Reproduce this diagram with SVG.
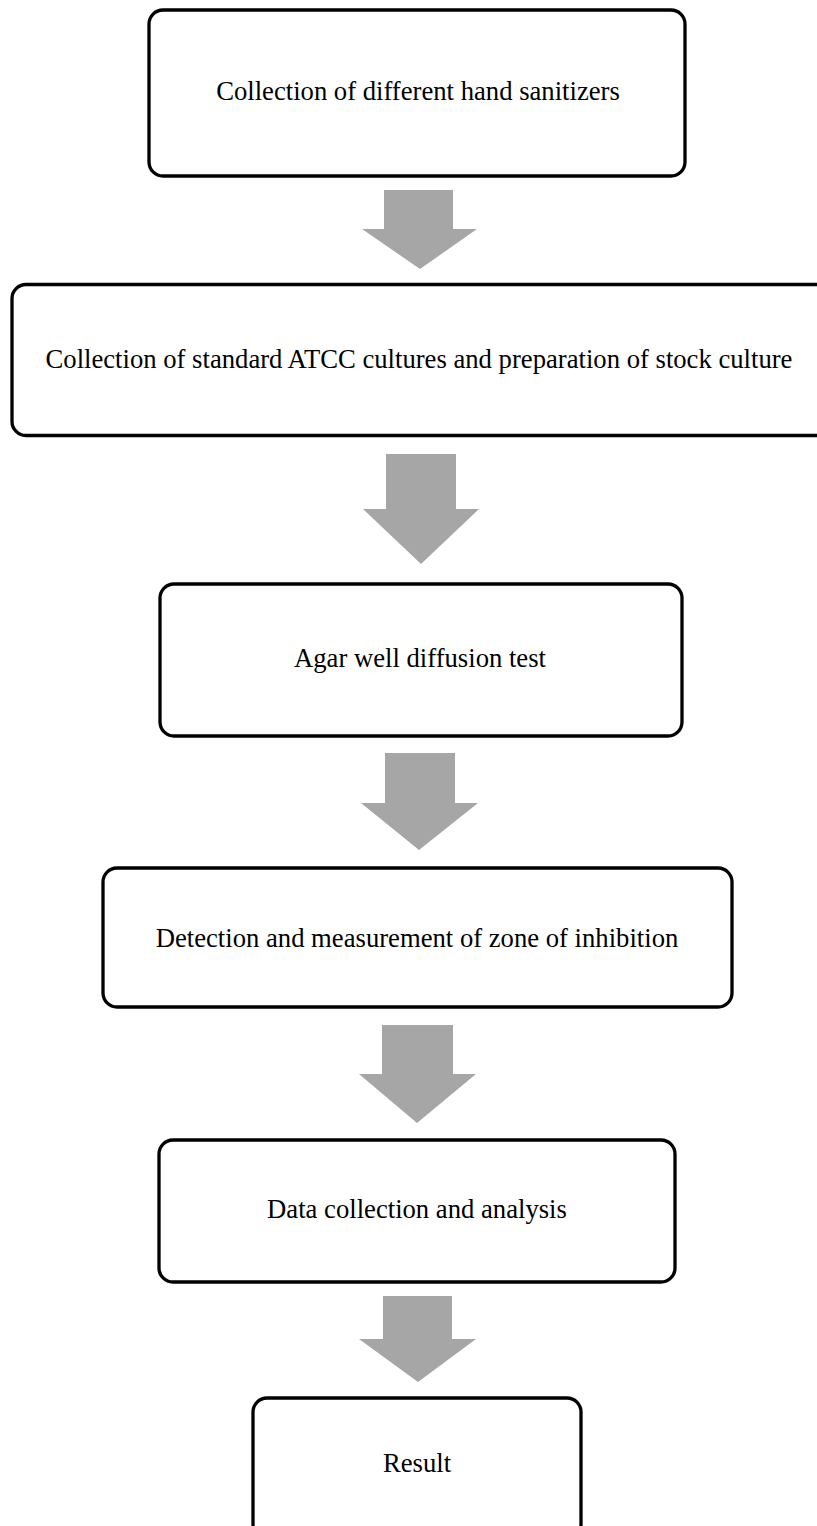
<svg xmlns="http://www.w3.org/2000/svg" width="817" height="1526" viewBox="0 0 817 1526">
<style>
.box{fill:#ffffff;stroke:#000000;stroke-width:3.3}
.lbl{font-family:"Liberation Serif","Times New Roman",serif;font-size:26.67px;fill:#000000;text-anchor:middle}
.arr{fill:#a6a6a6;stroke:none}
</style>
<rect width="817" height="1526" fill="#ffffff"/>
<g id="connectors">
<polygon class="arr" points="384,190 453,190 453,229 477,229 420,269 362,229 384,229"/>
<polygon class="arr" points="386,454 456,454 456,509 479,509 421,564 363,509 386,509"/>
<polygon class="arr" points="385,753 455,753 455,803 478,803 419,850 361,803 385,803"/>
<polygon class="arr" points="382,1025 453,1025 453,1074 476,1074 417,1123 359,1074 382,1074"/>
<polygon class="arr" points="383,1296 452,1296 452,1339 476,1339 418,1382 359,1339 383,1339"/>
</g>
<g id="node1">
<rect class="box" x="149" y="10" width="536" height="166" rx="14" ry="14"/>
<text class="lbl" x="418" y="100">Collection of different hand sanitizers</text>
</g>
<g id="node2">
<rect class="box" x="12" y="284.5" width="830" height="151" rx="14" ry="14"/>
<text class="lbl" x="419" y="368">Collection of standard ATCC cultures and preparation of stock culture</text>
</g>
<g id="node3">
<rect class="box" x="160" y="584" width="522" height="152" rx="14" ry="14"/>
<text class="lbl" x="420" y="667">Agar well diffusion test</text>
</g>
<g id="node4">
<rect class="box" x="103" y="868" width="629" height="139" rx="14" ry="14"/>
<text class="lbl" x="417" y="947">Detection and measurement of zone of inhibition</text>
</g>
<g id="node5">
<rect class="box" x="159" y="1140" width="516" height="142" rx="14" ry="14"/>
<text class="lbl" x="417" y="1218">Data collection and analysis</text>
</g>
<g id="node6">
<rect class="box" x="253" y="1398" width="328" height="140" rx="14" ry="14"/>
<text class="lbl" x="417" y="1472">Result</text>
</g>
</svg>
